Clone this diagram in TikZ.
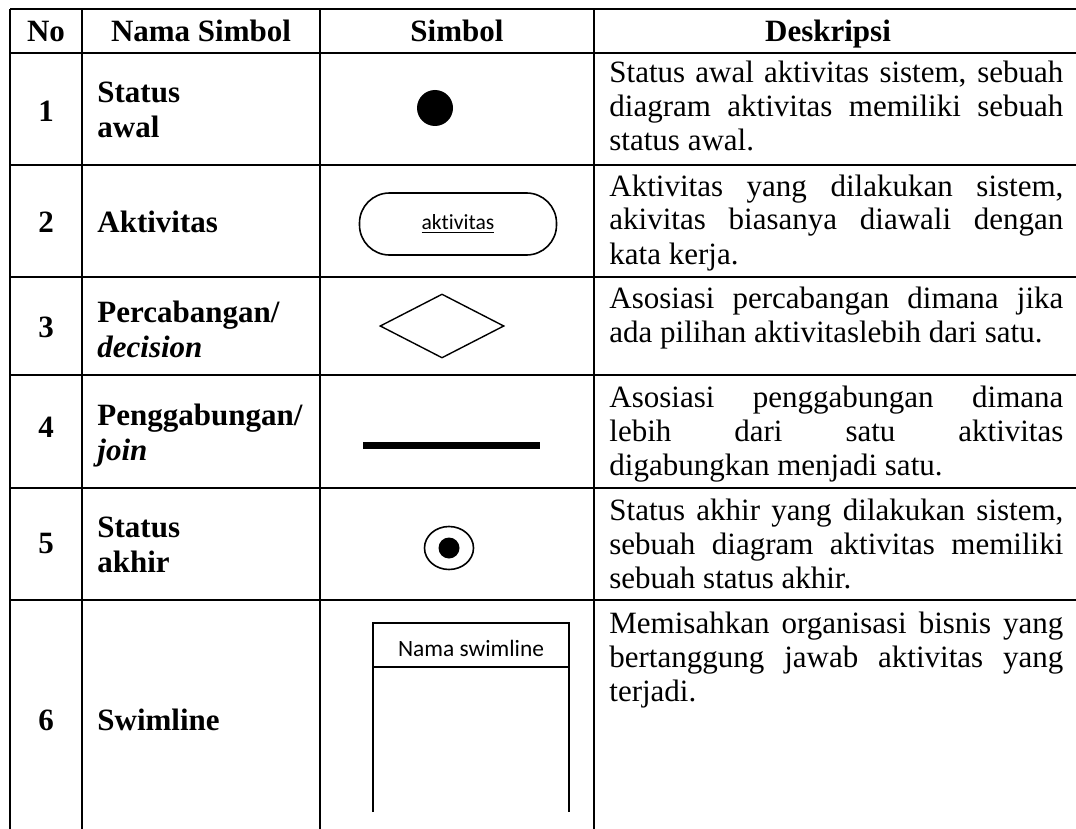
\documentclass[tikz,border=0pt]{standalone}
\usepackage{fontspec}
\setmainfont{Liberation Serif}
\newfontfamily\symfont[Ligatures=NoCommon]{Carlito}
\usetikzlibrary{shapes.geometric}
\hbadness=10000
\tikzset{
  gridline/.style={line width=1.4pt},
  headcell/.style={font=\fontsize{15.5}{17}\selectfont\bfseries, anchor=base, inner sep=0pt},
  numcell/.style={font=\fontsize{15.5}{17}\selectfont\bfseries, anchor=base, inner sep=0pt},
  namecell/.style={font=\fontsize{15.5}{17.5}\selectfont\bfseries, anchor=base west, text width=110pt, align=left, inner sep=0pt},
  desccell/.style={font=\fontsize{15.5}{17}\selectfont, anchor=base west, text width=227pt, align=justify, inner sep=0pt},
  symline/.style={line width=0.8pt},
}
\begin{document}
\begin{tikzpicture}[x=0.5pt, y=-0.5pt]
    \useasboundingbox (0,0) rectangle (1076,829);
    % table grid
    \foreach \gx in {10,82,320,594} \draw[gridline] (\gx,9) -- (\gx,829);
    \foreach \gy in {9,53,165,277,375,488,600} \draw[gridline] (10,\gy) -- (1076,\gy);

    % header
    \node[headcell] (hno) at (46,42) {No};
    \node[headcell] (hnama) at (201,42) {Nama Simbol};
    \node[headcell] (hsimbol) at (457,42) {Simbol};
    \node[headcell] (hdesk) at (828,42) {Deskripsi};

    % row 1
    \node[numcell] (no1) at (46,122) {1};
    \node[namecell] (nama1) at (97,103) {Status\\awal};
    \node[circle, fill, minimum size=18pt, inner sep=0pt] (awal) at (435,108) {};
    \node[desccell] (desk1) at (609,83) {Status awal aktivitas sistem, sebuah\linebreak diagram aktivitas memiliki sebuah\linebreak status awal.};

    % row 2
    \node[numcell] (no2) at (46,232) {2};
    \node[namecell] (nama2) at (97,232) {Aktivitas};
    \node[draw, symline, rounded corners=15pt, minimum width=98.5pt, minimum height=31pt, inner sep=0pt, font=\symfont\fontsize{10.8}{12}\selectfont] (aktivitas) at (458,224) {\underline{aktivitas}};
    \node[desccell] (desk2) at (609,196) {Aktivitas yang dilakukan sistem,\linebreak akivitas biasanya diawali dengan\linebreak kata kerja.};

    % row 3
    \node[numcell] (no3) at (46,337) {3};
    \node[namecell] (nama3) at (97,322) {Percabangan/\\\textit{decision}};
    \node[diamond, draw, line width=0.7pt, minimum width=62pt, minimum height=32pt, inner sep=0pt] (decision) at (442,326) {};
    \node[desccell] (desk3) at (609,308) {Asosiasi percabangan dimana jika\linebreak ada pilihan aktivitaslebih dari satu.};

    % row 4
    \node[numcell] (no4) at (46,437) {4};
    \node[namecell] (nama4) at (97,425) {Penggabungan/\\\textit{join}};
    \node[fill, minimum width=88.5pt, minimum height=3.5pt, inner sep=0pt] (join) at (451.5,445.5) {};
    \node[desccell] (desk4) at (609,407) {Asosiasi penggabungan dimana\linebreak lebih dari satu aktivitas\linebreak digabungkan menjadi satu.};

    % row 5
    \node[numcell] (no5) at (46,553) {5};
    \node[namecell] (nama5) at (97,537) {Status\\akhir};
    \node[ellipse, draw, symline, minimum width=24.5pt, minimum height=21.5pt, inner sep=0pt] (akhir) at (449,548) {};
    \node[circle, fill, minimum size=10.5pt, inner sep=0pt] (akhirdot) at (akhir.center) {};
    \node[desccell] (desk5) at (609,520) {Status akhir yang dilakukan sistem,\linebreak sebuah diagram aktivitas memiliki\linebreak sebuah status akhir.};

    % row 6
    \node[numcell] (no6) at (46,730) {6};
    \node[namecell] (nama6) at (97,730) {Swimline};
    \draw[symline] (373,812) -- (373,623) -- (569,623) -- (569,812);
    \draw[symline] (373,667) -- (569,667);
    \node[anchor=base, inner sep=0pt, font=\symfont\fontsize{11.7}{13}\selectfont] (lane) at (471,656) {Nama swimline};
    \node[desccell] (desk6) at (609,633) {Memisahkan organisasi bisnis yang\linebreak bertanggung jawab aktivitas yang\linebreak terjadi.};
  \end{tikzpicture}
\end{document}
